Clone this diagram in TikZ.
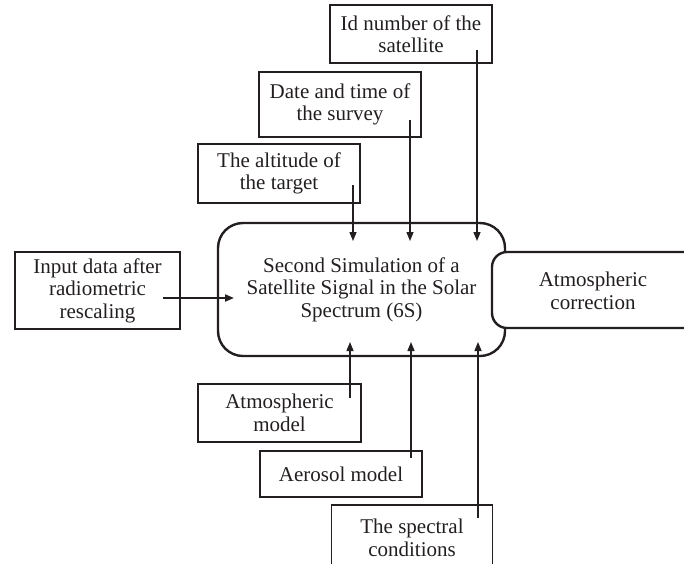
\documentclass[tikz,border=0pt]{standalone}
\usepackage{fontspec}
\setmainfont{Liberation Serif}
\usetikzlibrary{arrows.meta}
\definecolor{ink}{HTML}{231F20}
\begin{document}
\begin{tikzpicture}[x=1pt,y=-1pt,
  every node/.style={text=ink,font=\fontsize{21}{22.5}\selectfont,align=center,inner sep=0pt},
  sbox/.style={draw=ink,line width=1.3pt,rectangle},
  arr/.style={draw=ink,line width=1.4pt,-{Triangle[length=9pt,width=7pt]}}]
\useasboundingbox (0,0) rectangle (684,563);
\clip (0,0) rectangle (684,563);
% boxes
\node[sbox,minimum width=162pt,minimum height=58pt] (id) at (411,34) {Id number of the\\satellite};
\node[sbox,minimum width=162pt,minimum height=65pt] (date) at (340,104.5) {Date and time of\\the survey};
\node[sbox,minimum width=162pt,minimum height=59pt] (alt) at (279,173.5) {The altitude of\\the target};
\node[draw=ink,line width=2.4pt,rounded corners=25pt,minimum width=287pt,minimum height=133pt] (main) at (361.5,289.5) {Second Simulation of a\\Satellite Signal in the Solar\\Spectrum (6S)};
\draw[draw=ink,line width=2.4pt,fill=white,rounded corners=15pt] (720,252) -- (492,252) -- (492,328) -- (720,328);
\node (corr) at (593,291) {Atmospheric\\correction};
\node[sbox,minimum width=165pt,minimum height=77pt] (inp) at (97.5,290.5) {Input data after\\radiometric\\rescaling};
\node[sbox,minimum width=163pt,minimum height=58pt] (atm) at (279.5,413) {Atmospheric\\model};
\node[sbox,minimum width=162pt,minimum height=46pt] (aer) at (341,474) {Aerosol model};
\node[sbox,minimum width=161pt,minimum height=66pt] (spec) at (412,538) {The spectral\\conditions};
% connector end points
\coordinate (idS) at (477,50);   \coordinate (idE) at (477,241);
\coordinate (dtS) at (410,120);  \coordinate (dtE) at (410,241);
\coordinate (alS) at (353,185);  \coordinate (alE) at (353,241);
\coordinate (inS) at (163,298);  \coordinate (inE) at (234,298);
\coordinate (amS) at (350,398);  \coordinate (amE) at (350,342);
\coordinate (aeS) at (411,458);  \coordinate (aeE) at (411,342);
\coordinate (spS) at (478,518);  \coordinate (spE) at (478,342);
\draw[arr] (idS) -- (idE);
\draw[arr] (dtS) -- (dtE);
\draw[arr] (alS) -- (alE);
\draw[arr,line width=2pt] (inS) -- (inE);
\draw[arr] (amS) -- (amE);
\draw[arr] (aeS) -- (aeE);
\draw[arr] (spS) -- (spE);
\end{tikzpicture}
\end{document}
